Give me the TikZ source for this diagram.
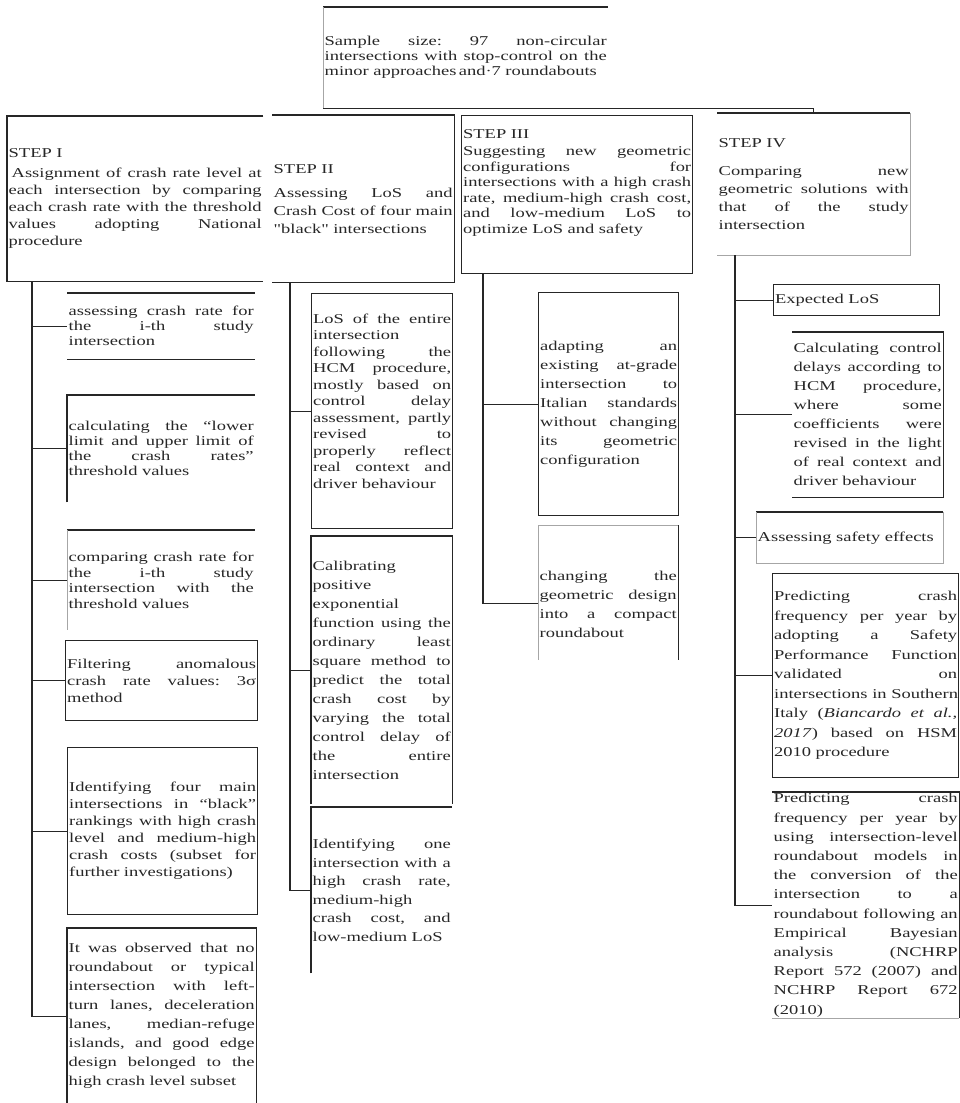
\documentclass[tikz,border=0pt]{standalone}
\usepackage{fontspec}
\usetikzlibrary{calc}
\setmainfont{Liberation Serif}[FakeStretch=1.37]
\newfontfamily\qfont{Liberation Serif}[FakeStretch=1.37]
\newcommand{\sq}{{\qfont"}}
\newcommand{\lsz}[1]{\fontsize{13.5pt}{#1pt}\selectfont\frenchspacing}
\newcommand{\jline}[1]{\hbox to\hsize{\spaceskip=\fontdimen2\font plus 1fil\xspaceskip=\spaceskip\relax #1}}
\newcommand{\lline}[1]{\hbox to\hsize{#1\hfil}}
\newcommand{\padend}[1]{\vskip#1\hrule height0pt width0pt}
\newcommand{\padstart}[1]{\hrule height0pt width0pt\vskip#1}
\tikzset{
  box/.style={anchor=north west, inner xsep=1.5pt, inner ysep=0pt, text=black!85},
  fr/.style={draw=black!85, line width=1.3pt},
  ln/.style={draw=black!85, line width=1.3pt},
  lt/.style={draw=black!35, line width=1pt},
}
\begin{document}
\begin{tikzpicture}[x=1pt,y=-1pt]
\useasboundingbox (0,0) rectangle (960,1103);

% ---------- top box ----------
\node[box, minimum width=285pt, minimum height=101pt, text width=282pt, font=\lsz{15}] (T0) at (323,7) {%
\jline{Sample size: 97 non-circular}
\jline{intersections with stop-control on the}
\lline{minor approaches\,and·7 roundabouts}};

% ---------- step boxes ----------
\node[box, minimum width=256pt, minimum height=165pt, text width=253pt, font=\lsz{17}] (S1) at (7,116) {%
\lline{STEP I}\vskip3pt
\jline{\hskip3pt Assignment of crash rate level at}
\jline{each intersection by comparing}
\jline{each crash rate with the threshold}
\jline{values adopting National}
\lline{procedure}};

\node[box, minimum width=182pt, minimum height=167pt, text width=179pt, font=\lsz{18}] (S2) at (272,115) {%
\lline{STEP II}\vskip6pt
\jline{Assessing LoS and}
\jline{Crash Cost of four main}
\lline{\sq black\sq{} intersections}};

\node[box, fr, minimum width=231pt, minimum height=158pt, text width=228pt, font=\lsz{15.5}] (S3) at (461,115) {%
\lline{STEP III}\vskip2pt
\jline{Suggesting new geometric}
\jline{configurations for}
\jline{intersections with a high crash}
\jline{rate, medium-high crash cost,}
\jline{and low-medium LoS to}
\lline{optimize LoS and safety}\padend{24pt}};

\node[box, minimum width=193pt, minimum height=142pt, text width=190pt, font=\lsz{18}] (S4) at (717,113) {%
\lline{STEP IV}\vskip10pt
\jline{Comparing new}
\jline{geometric solutions with}
\jline{that of the study}
\lline{intersection}};

% ---------- step I children ----------
\node[box, minimum width=188pt, minimum height=66pt, text width=185pt, font=\lsz{15}] (C1) at (67,293) {%
\jline{assessing crash rate for}
\jline{the i-th study}
\lline{intersection}};
\node[box, minimum width=188pt, minimum height=107pt, text width=185pt, font=\lsz{15}] (C2) at (67,395) {%
\jline{calculating the “lower}
\jline{limit and upper limit of}
\jline{the crash rates”}
\lline{threshold values}};
\node[box, minimum width=188pt, minimum height=100pt, text width=185pt, font=\lsz{15.5}] (C3) at (67,530) {%
\jline{comparing crash rate for}
\jline{the i-th study}
\jline{intersection with the}
\lline{threshold values}};
\node[box, fr, minimum width=192pt, minimum height=80pt, text width=189pt, font=\lsz{17}] (C4) at (65,640) {%
\jline{Filtering anomalous}
\jline{crash rate values: 3σ}
\lline{method}};
\node[box, fr, minimum width=190pt, minimum height=167pt, text width=187pt, font=\lsz{17}] (C5) at (67,747) {%
\jline{Identifying four main}
\jline{intersections in “black”}
\jline{rankings with high crash}
\jline{level and medium-high}
\jline{crash costs (subset for}
\lline{further investigations)}};
\node[box, minimum width=189pt, minimum height=176pt, text width=186pt, font=\lsz{19}] (C6) at (67,928) {%
\jline{It was observed that no}
\jline{roundabout or typical}
\jline{intersection with left-}
\jline{turn lanes, deceleration}
\jline{lanes, median-refuge}
\jline{islands, and good edge}
\jline{design belonged to the}
\lline{high crash level subset}};

% ---------- step II children ----------
\node[box, fr, minimum width=141pt, minimum height=235pt, text width=138pt, font=\lsz{16.5}] (D1) at (311,293) {%
\jline{LoS of the entire}
\lline{intersection}
\jline{following the}
\jline{HCM procedure,}
\jline{mostly based on}
\jline{control delay}
\jline{assessment, partly}
\jline{revised to}
\jline{properly reflect}
\jline{real context and}
\lline{driver behaviour}\padend{20pt}};
\node[box, minimum width=141pt, minimum height=268pt, text width=138pt, font=\lsz{19}] (D2) at (311,536) {%
\lline{Calibrating}
\lline{positive}
\lline{exponential}
\jline{function using the}
\jline{ordinary least}
\jline{square method to}
\jline{predict the total}
\jline{crash cost by}
\jline{varying the total}
\jline{control delay of}
\jline{the entire}
\lline{intersection}};
\node[box, minimum width=141pt, minimum height=166pt, text width=138pt, font=\lsz{18.5}] (D3) at (311,807) {%
\jline{Identifying one}
\jline{intersection with a}
\jline{high crash rate,}
\lline{medium-high}
\jline{crash cost, and}
\lline{low-medium LoS}};

% ---------- step III children ----------
\node[box, fr, minimum width=140pt, minimum height=223pt, text width=137pt, font=\lsz{19}] (E1) at (538,292) {%
\jline{adapting an}
\jline{existing at-grade}
\jline{intersection to}
\jline{Italian standards}
\jline{without changing}
\jline{its geometric}
\lline{configuration}};
\node[box, minimum width=140pt, minimum height=135pt, text width=137pt, font=\lsz{19}] (E2) at (538,525) {%
\padstart{24pt}
\jline{changing the}
\jline{geometric design}
\jline{into a compact}
\lline{roundabout}};

% ---------- step IV children ----------
\node[box, fr, minimum width=166pt, minimum height=31pt, text width=163pt, font=\lsz{16}] (F1) at (773,284) {%
\lline{Expected LoS}};
\node[box, minimum width=151pt, minimum height=165pt, text width=148pt, font=\lsz{19}] (F2) at (792,332) {%
\jline{Calculating control}
\jline{delays according to}
\jline{HCM procedure,}
\jline{where some}
\jline{coefficients were}
\jline{revised in the light}
\jline{of real context and}
\lline{driver behaviour}};
\node[box, minimum width=187pt, minimum height=51pt, text width=184pt, font=\lsz{16}] (F3) at (756,512) {%
\lline{Assessing safety effects}};
\node[box, fr, minimum width=186pt, minimum height=204pt, text width=183pt, font=\lsz{19.5}] (F4) at (772,573) {%
\jline{Predicting crash}
\jline{frequency per year by}
\jline{adopting a Safety}
\jline{Performance Function}
\jline{validated on}
\jline{intersections in Southern}
\jline{Italy (\textit{Biancardo et al.,}}
\jline{\textit{2017}) based on HSM}
\lline{2010 procedure}};
\node[box, minimum width=187pt, minimum height=226pt, text width=184pt, font=\lsz{19.2}] (F5) at (772,792) {%
\jline{Predicting crash}
\jline{frequency per year by}
\jline{using intersection-level}
\jline{roundabout models in}
\jline{the conversion of the}
\jline{intersection to a}
\jline{roundabout following an}
\jline{Empirical Bayesian}
\jline{analysis (NCHRP}
\jline{Report 572 (2007) and}
\jline{NCHRP Report 672}
\lline{(2010)}};

% ---------- partial borders ----------
\draw[ln] (T0.north west) -- (T0.north east);
\draw[ln] (T0.south west) -- (T0.south east);
\draw[lt] (T0.north west) -- (T0.south west);
\draw[ln] (S1.north east) -- (S1.north west) -- (S1.south west) -- (S1.south east);
\draw[ln] (S2.north west) -- (S2.north east) -- (S2.south east) -- (S2.south west);
\draw[ln] (S4.north west) -- (S4.north east);
\draw[lt] (S4.north east) -- (S4.south east) -- (S4.south west);
\draw[ln] (C1.north west) -- (C1.north east);
\draw[ln] (C1.south west) -- (C1.south east);
\draw[ln] (C2.south west) -- (C2.north west) -- (C2.north east);
\draw[ln] (C3.north west) -- (C3.north east);
\draw[lt] (C3.north west) -- (C3.south west);
\draw[ln] (C6.south west) -- (C6.north west) -- (C6.north east) -- (C6.south east);
\draw[ln] (D2.south west) -- (D2.north west) -- (D2.north east) -- (D2.south east);
\draw[ln] (D3.south west) -- (D3.north west) -- (D3.north east);
\draw[lt] (E2.north west) -- (E2.north east);
\draw[lt] (E2.north west) -- (E2.south west);
\draw[ln] (E2.north east) -- (E2.south east);
\draw[ln] (F2.north west) -- (F2.north east) -- (F2.south east) -- (F2.south west);
\draw[ln] (F3.north west) -- (F3.north east);
\draw[lt] (F3.north west) -- (F3.south west) -- (F3.south east) -- (F3.north east);
\draw[ln] (F5.north west) -- (F5.north east) -- (F5.south east);
\draw[lt] (F5.south west) -- (F5.south east);

% ---------- connectors ----------
\draw[ln] (T0.south east) -- (T0.south east -| S4.north) -- (S4.north);

\coordinate (t1) at (32,281);
\draw[ln] (t1) |- (C6.west);
\foreach \n in {C1,C2,C3,C4,C5} \draw[ln] (t1 |- \n.west) -- (\n.west);

\coordinate (t2) at (290,282);
\draw[ln] (t2) |- (D3.west);
\foreach \n in {D1,D2} \draw[ln] (t2 |- \n.west) -- (\n.west);

\coordinate (t3) at (483,273);
\coordinate (e2in) at ($(E2.north west)!0.58!(E2.south west)$);
\draw[ln] (t3) |- (e2in);
\draw[ln] (t3 |- E1.west) -- (E1.west);

\coordinate (t4) at (735,255);
\draw[ln] (t4) |- (F5.west);
\foreach \n in {F1,F2,F3,F4} \draw[ln] (t4 |- \n.west) -- (\n.west);
\end{tikzpicture}
\end{document}
